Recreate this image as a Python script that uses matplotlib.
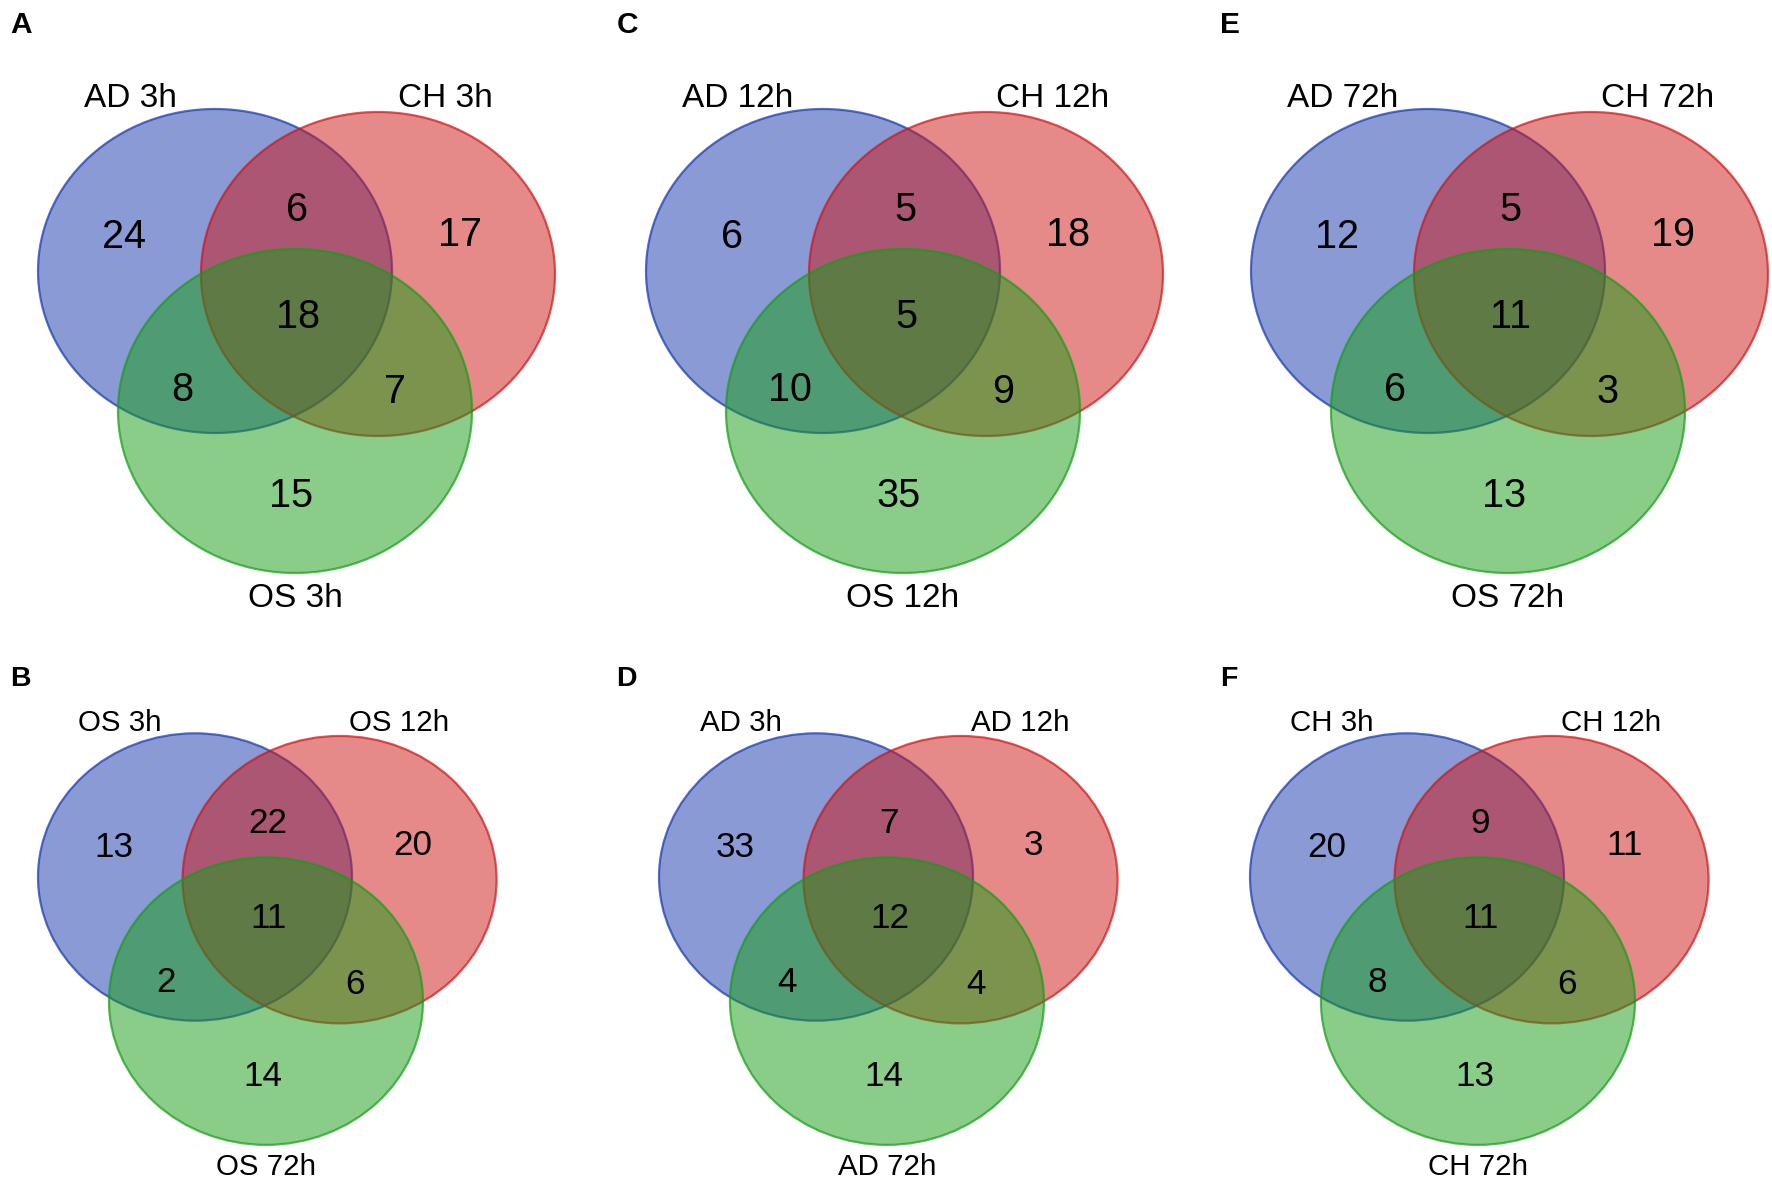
import matplotlib
matplotlib.use("Agg")
import matplotlib.pyplot as plt
from matplotlib.patches import Ellipse
from matplotlib.colors import to_rgba

plt.rcParams['font.family'] = ['Liberation Sans', 'DejaVu Sans']

# --- data: one Venn diagram per panel ---
# region order: only1, 1&2, only2, all three, 1&3, 2&3, only3
panel_letters = ["A", "C", "E", "B", "D", "F"]

set_names_A = ["AD 3h", "CH 3h", "OS 3h"]
counts_A = [24, 6, 17, 18, 8, 7, 15]

set_names_C = ["AD 12h", "CH 12h", "OS 12h"]
counts_C = [6, 5, 18, 5, 10, 9, 35]

set_names_E = ["AD 72h", "CH 72h", "OS 72h"]
counts_E = [12, 5, 19, 11, 6, 3, 13]

set_names_B = ["OS 3h", "OS 12h", "OS 72h"]
counts_B = [13, 22, 20, 11, 2, 6, 14]

set_names_D = ["AD 3h", "AD 12h", "AD 72h"]
counts_D = [33, 7, 3, 12, 4, 4, 14]

set_names_F = ["CH 3h", "CH 12h", "CH 72h"]
counts_F = [20, 9, 11, 11, 8, 6, 13]

names = [set_names_A, set_names_C, set_names_E, set_names_B, set_names_D, set_names_F]
counts = [counts_A, counts_C, counts_E, counts_B, counts_D, counts_F]

# --- layout (pixel units of the top row, scaled for the bottom row) ---
origins = [(215, 271), (823, 271), (1428, 271), (195, 877), (816, 877), (1407, 877)]
scales = [1, 1, 1, 0.887, 0.887, 0.887]
letter_pos = [(10, 22.5), (617, 22.5), (1220, 22.5), (10, 676), (616, 676), (1220, 676)]
letter_size = [21.5, 21.5, 21.5, 20.5, 20.5, 20.5]

semi_a, semi_b = 177, 162
circle_offsets = [(0, 0), (163, 3), (80, 140)]
region_offsets = [(-91, -37), (82, -64), (245, -39), (83, 43),
                  (-33, 116), (180, 118), (76, 222)]
name_offsets = [(-85, -176), (230, -176), (80, 324)]

fill_colors = ["#1537ad", "#cd1515", "#159d15"]

fig = plt.figure(figsize=(17.72, 12), dpi=100)
ax = fig.add_axes([0, 0, 1, 1])
ax.set_xlim(0, 1772)
ax.set_ylim(1200, 0)
ax.axis('off')

PX = 100 / 72  # pixels per point


def baseline(y, fs):
    # put digit / cap centre on y
    return y + 0.5 * 0.716 * fs * PX


for k in range(6):
    ox, oy = origins[k]
    s = scales[k]
    for (dx, dy), col in zip(circle_offsets, fill_colors):
        e = Ellipse((ox + dx * s, oy + dy * s), 2 * semi_a * s, 2 * semi_b * s,
                    facecolor=to_rgba(col, 0.5), edgecolor=to_rgba(col, 0.7),
                    linewidth=1.6)
        ax.add_patch(e)

    fs_num = 28.5 * s
    for (dx, dy), n in zip(region_offsets, counts[k]):
        y = oy + dy * s
        ax.text(ox + dx * s, baseline(y, fs_num), str(n), fontsize=fs_num,
                ha='center', va='baseline', color='black')

    fs_name = 24 * s
    for (dx, dy), nm in zip(name_offsets, names[k]):
        y = oy + dy * s
        ax.text(ox + dx * s, baseline(y, fs_name), nm, fontsize=fs_name,
                ha='center', va='baseline', color='black')

    lx, ly = letter_pos[k]
    ax.text(lx, baseline(ly, letter_size[k]), panel_letters[k],
            fontsize=letter_size[k], fontweight='bold', ha='left', va='baseline')

fig.savefig("out.png", dpi=100, facecolor='white')
